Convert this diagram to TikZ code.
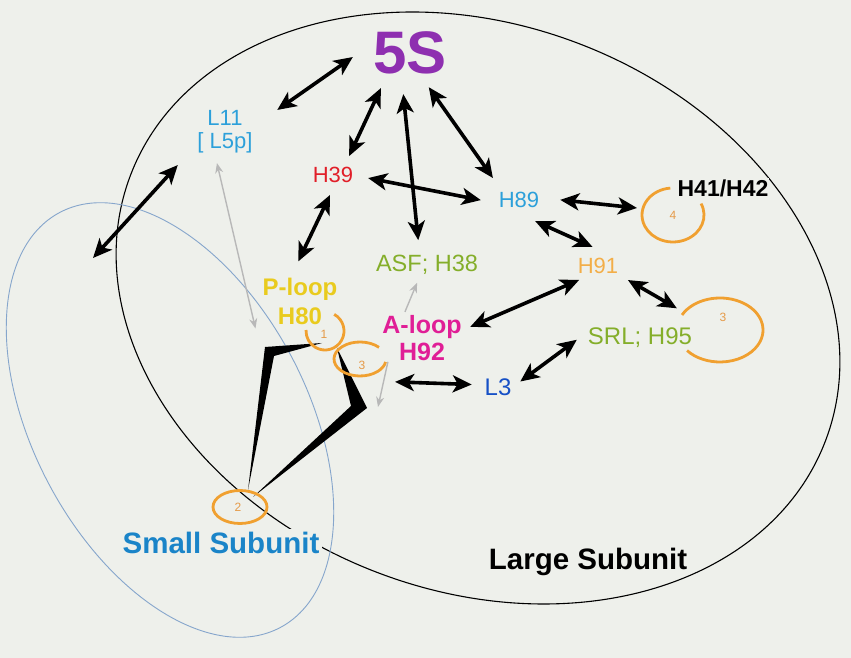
\documentclass[tikz,border=0pt]{standalone}
\usepackage{fontspec}
\setmainfont{Liberation Sans}
\usepackage{tikz}
\usetikzlibrary{arrows.meta,shapes.geometric}
\definecolor{paper}{HTML}{EEF0EB}
\definecolor{fivespurple}{HTML}{8E2FB0}
\definecolor{skyblue}{HTML}{2CA0DA}
\definecolor{helixred}{HTML}{E11E28}
\definecolor{leafgreen}{HTML}{84AE2A}
\definecolor{amberorange}{HTML}{F3AE48}
\definecolor{loopyellow}{HTML}{E9CB1E}
\definecolor{loopmagenta}{HTML}{E01E96}
\definecolor{deepblue}{HTML}{1650C6}
\definecolor{subblue}{HTML}{1A84C8}
\definecolor{ringorange}{HTML}{F0A030}
\definecolor{numorange}{HTML}{E59A48}
\definecolor{hintgrey}{HTML}{B8B8B8}
\definecolor{outlineblue}{HTML}{86A6CC}

\begin{document}
\begin{tikzpicture}[
  x=1pt, y=1pt,
  tag/.style={inner sep=1pt},
  small/.style={tag,font=\fontsize{22}{23}\selectfont},
  mid/.style={tag,font=\fontsize{24}{26}\selectfont},
  heavy/.style={tag,font=\fontsize{29.5}{30}\selectfont\bfseries},
  ring/.style={ellipse,inner sep=0pt,outer sep=0pt},
  num/.style={inner sep=0pt,text=numorange,font=\fontsize{12}{12}\selectfont},
  arcline/.style={draw=ringorange,line width=2.8pt},
  link/.style={{Stealth[length=19pt,width=17pt,inset=5pt]}-{Stealth[length=19pt,width=17pt,inset=5pt]},line width=3.6pt},
  hint/.style={-{Stealth[length=10pt,width=8pt]},draw=hintgrey,line width=1.4pt},
  hintboth/.style={hint,{Stealth[length=10pt,width=8pt]}-{Stealth[length=10pt,width=8pt]}}
]
  \useasboundingbox (0,0) rectangle (851,658);
  \fill[paper] (0,0) rectangle (851,658);

  \draw[line width=1.1pt,rotate around={-21:(478,350)}] (478,350) ellipse[x radius=372,y radius=283];
  \draw[draw=outlineblue,line width=0.9pt,rotate around={-62:(170,238)}] (170,238) ellipse[x radius=235,y radius=137];

  \fill (248,168) -- (265,311) -- (322,315) -- (274,302) -- cycle;
  \fill (253,161) -- (367,250) -- (337,310) -- (351,252) -- cycle;

  \node[ring,minimum width=38pt,minimum height=38pt] (ring1) at (325,327) {};
  \node[ring,minimum width=52pt,minimum height=34pt] (ring3s) at (360,299) {};
  \node[ring,arcline,minimum width=54pt,minimum height=33pt] (ring2) at (240,151) {};
  \node[ring,minimum width=62pt,minimum height=54pt] (ring4) at (673,443) {};
  \node[ring,minimum width=86pt,minimum height=64pt] (ring3) at (720,328) {};
  \draw[arcline] (ring1.center) ++(61:19 and 19) arc[start angle=61,end angle=-183,x radius=19,y radius=19];
  \draw[arcline] (ring3s.center) ++(43:26 and 17) arc[start angle=43,end angle=350,x radius=26,y radius=17];
  \draw[arcline] (ring4.center) ++(25:31 and 27) arc[start angle=25,end angle=-265,x radius=31,y radius=27];
  \draw[arcline] (ring3.center) ++(152:43 and 32) arc[start angle=152,end angle=-140,x radius=43,y radius=32];
  \node[num] (n1) at (324,324) {1};
  \node[num] (n3s) at (362,293) {3};
  \node[num] (n2) at (238,151) {2};
  \node[num] (n4) at (673,443) {4};
  \node[num] (n3) at (723,341) {3};

  \node[tag,font=\fontsize{60}{60}\selectfont\bfseries,text=fivespurple] (s5) at (410,605) {5S};
  \node[small,align=center,text=skyblue] (l11) at (225,526) {L11\\{[} L5p]};
  \node[small,text=helixred] (h39) at (333,483) {H39};
  \node[small,text=skyblue] (h89) at (519,458) {H89};
  \node[tag,fill=paper,font=\fontsize{23}{23}\selectfont\bfseries] (h41) at (723,470) {H41/H42};
  \node[tag,font=\fontsize{23.5}{24}\selectfont,text=leafgreen] (asf) at (427,393) {ASF; H38};
  \node[small,text=amberorange] (h91) at (598,392) {H91};
  \node[tag,align=center,font=\fontsize{24}{29}\selectfont\bfseries,text=loopyellow] (ploop) at (300,357) {P-loop\\H80};
  \node[tag,align=center,font=\fontsize{25}{27}\selectfont\bfseries,text=loopmagenta] (aloop) at (422,320) {A-loop\\H92};
  \node[mid,text=deepblue] (l3) at (498,270.5) {L3};
  \node[mid,text=leafgreen] (srl) at (640,320) {SRL; H95};
  \node[heavy,inner sep=3pt,fill=paper,text=subblue] (small) at (221,115.5) {Small Subunit};
  \node[heavy] (large) at (588,96) {Large Subunit};
  \coordinate (outer) at (93,400);

  \draw[link,shorten <=23.5pt,shorten >=28.7pt] (s5.166) -- (l11.11);
  \draw[link,shorten <=14pt,shorten >=11pt] (s5.224) -- (h39.38);
  \draw[link,shorten <=18.8pt,shorten >=14pt] (s5.249) -- (asf.124);
  \draw[link,shorten <=14.4pt,shorten >=15.9pt] (s5.295) -- (h89.152);
  \draw[link,shorten <=14pt,shorten >=17.1pt] (h39.359) -- (h89.189);
  \draw[link,shorten <=27.4pt] (l11.204) -- (outer);
  \draw[link,shorten <=12.2pt,shorten >=16.7pt] (h39.284) -- (ploop.110);
  \draw[link,shorten <=19.9pt,shorten >=5.9pt] (h89.6) -- (ring4.168);
  \draw[link,shorten <=29.4pt,shorten >=24.5pt] (h89.220) -- (h91.28);
  \draw[link,shorten <=12.6pt,shorten >=8.1pt] (h91.231) -- (aloop.11);
  \draw[link,shorten <=10.1pt,shorten >=8.3pt] (h91.337) -- (ring3.154);
  \draw[link,shorten <=12.4pt,shorten >=9.6pt] (srl.174) -- (l3.1);
  \draw[link,shorten >=11.7pt] ([shift={(-27,-20)}]aloop.south) -- (l3.170);

  \draw[hintboth,shorten <=8.8pt] (l11.246) -- ([shift={(-6,-3)}]ploop.south west);
  \draw[hint,shorten <=2.4pt,shorten >=7.5pt] (aloop.127) -- (asf.237);
  \draw[hint] (aloop.215) -- ([shift={(-44,-45)}]aloop.south);
\end{tikzpicture}
\end{document}
